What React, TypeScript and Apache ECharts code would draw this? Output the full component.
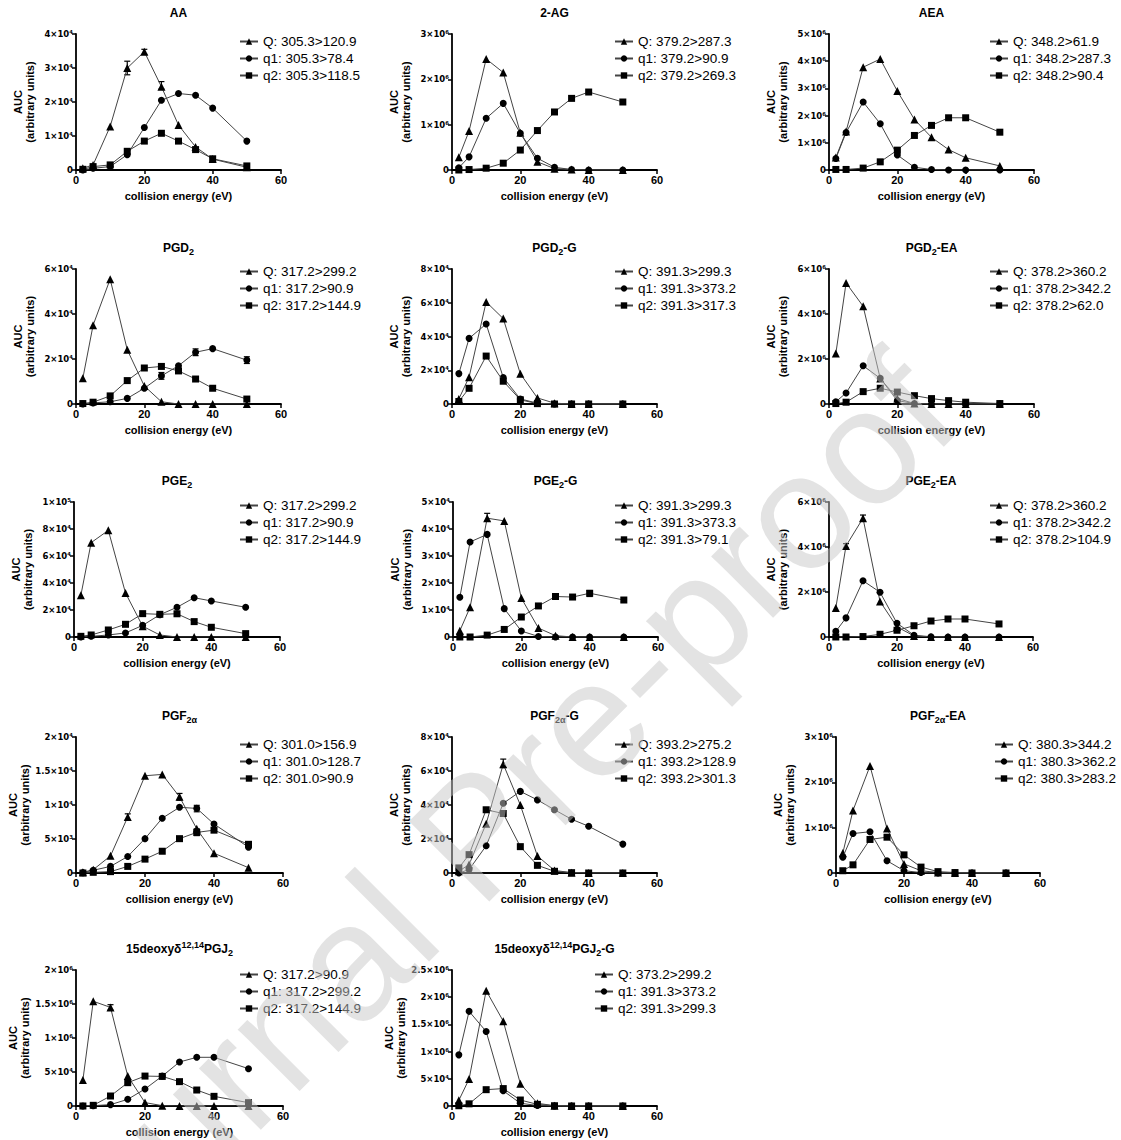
import React, { useEffect, useRef } from "react";
import * as echarts from "echarts";

const FONT = '"Liberation Sans", Arial, sans-serif';
const TICK_FONT = '"DejaVu Sans", "Liberation Sans", sans-serif';

const ENERGY = [2, 5, 10, 15, 20, 25, 30, 35, 40, 50];
const X_LABEL = "collision energy (eV)";
const Y_LABEL = "AUC\n(arbitrary units)";

// ---- AA (×10^4)
const AA_Q = [0.05, 0.15, 1.28, 3.0, 3.48, 2.45, 1.32, 0.68, 0.32, 0.08];
const AA_q1 = [0.0, 0.05, 0.1, 0.45, 1.25, 2.05, 2.25, 2.2, 1.82, 0.85];
const AA_q2 = [0.02, 0.1, 0.15, 0.55, 0.85, 1.08, 0.85, 0.6, 0.33, 0.12];
const AA_ERR = [[15, 2.8, 3.2], [20, 3.4, 3.55], [25, 2.38, 2.6]];
const AA_TICKS = ["0", "1×10⁴", "2×10⁴", "3×10⁴", "4×10⁴"];
const AA_LEGEND = ["Q: 305.3>120.9", "q1: 305.3>78.4", "q2: 305.3>118.5"];

// ---- 2-AG (×10^6)
const AG_Q = [0.28, 0.86, 2.45, 2.15, 0.82, 0.18, 0.03, 0.01, 0, 0];
const AG_q1 = [0.05, 0.29, 1.14, 1.47, 0.81, 0.26, 0.06, 0.01, 0, 0];
const AG_q2 = [0, 0.01, 0.04, 0.15, 0.44, 0.87, 1.28, 1.58, 1.72, 1.5];
const AG_TICKS = ["0", "1×10⁶", "2×10⁶", "3×10⁶"];
const AG_LEGEND = ["Q: 379.2>287.3", "q1: 379.2>90.9", "q2: 379.2>269.3"];

// ---- AEA (×10^6)
const AEA_Q = [0.46, 1.42, 3.78, 4.08, 2.9, 1.86, 1.2, 0.75, 0.45, 0.15];
const AEA_q1 = [0.42, 1.38, 2.5, 1.7, 0.55, 0.1, 0.02, 0, 0, 0];
const AEA_q2 = [0.02, 0.02, 0.07, 0.3, 0.73, 1.27, 1.64, 1.92, 1.92, 1.39];
const AEA_TICKS = ["0", "1×10⁶", "2×10⁶", "3×10⁶", "4×10⁶", "5×10⁶"];
const AEA_LEGEND = ["Q: 348.2>61.9", "q1: 348.2>287.3", "q2: 348.2>90.4"];

// ---- PGD2 (×10^4)
const PGD2_Q = [1.14, 3.5, 5.55, 2.41, 0.8, 0.1, 0, 0, 0, 0];
const PGD2_q1 = [0, 0.05, 0.1, 0.25, 0.7, 1.25, 1.7, 2.3, 2.46, 1.95];
const PGD2_q2 = [0.02, 0.08, 0.36, 1.04, 1.6, 1.67, 1.47, 1.11, 0.7, 0.22];
const PGD2_ERR = [[25, 1.1, 1.4], [35, 2.15, 2.45], [50, 1.8, 2.1]];
const PGD2_TICKS = ["0", "2×10⁴", "4×10⁴", "6×10⁴"];
const PGD2_LEGEND = ["Q: 317.2>299.2", "q1: 317.2>90.9", "q2: 317.2>144.9"];

// ---- PGD2-G (×10^4)
const PGD2G_Q = [0.3, 1.59, 6.05, 5.06, 1.79, 0.36, 0.05, 0, 0, 0];
const PGD2G_q1 = [1.8, 3.89, 4.74, 1.57, 0.3, 0.05, 0, 0, 0, 0];
const PGD2G_q2 = [0.15, 0.93, 2.84, 1.35, 0.25, 0.02, 0, 0, 0, 0];
const PGD2G_TICKS = ["0", "2×10⁴", "4×10⁴", "6×10⁴", "8×10⁴"];
const PGD2G_LEGEND = ["Q: 391.3>299.3", "q1: 391.3>373.2", "q2: 391.3>317.3"];

// ---- PGD2-EA (×10^6)
const PGD2EA_Q = [2.24, 5.38, 4.34, 1.13, 0.25, 0.02, 0, 0, 0, 0];
const PGD2EA_q1 = [0.1, 0.49, 1.7, 1.14, 0.15, 0.02, 0, 0, 0, 0];
const PGD2EA_q2 = [0.02, 0.08, 0.55, 0.7, 0.53, 0.37, 0.24, 0.15, 0.08, 0.02];
const PGD2EA_TICKS = ["0", "2×10⁶", "4×10⁶", "6×10⁶"];
const PGD2EA_LEGEND = ["Q: 378.2>360.2", "q1: 378.2>342.2", "q2: 378.2>62.0"];

// ---- PGE2 (×10^4)
const PGE2_Q = [3.09, 6.99, 7.9, 3.26, 0.8, 0.15, 0, 0, 0, 0];
const PGE2_q1 = [0, 0.05, 0.15, 0.3, 0.86, 1.65, 2.2, 2.91, 2.67, 2.2];
const PGE2_q2 = [0.05, 0.15, 0.52, 0.94, 1.73, 1.68, 1.72, 1.14, 0.72, 0.25];
const PGE2_TICKS = ["0", "2×10⁴", "4×10⁴", "6×10⁴", "8×10⁴", "1×10⁵"];
const PGE2_LEGEND = ["Q: 317.2>299.2", "q1: 317.2>90.9", "q2: 317.2>144.9"];

// ---- PGE2-G (×10^4)
const PGE2G_Q = [0.23, 1.1, 4.4, 4.3, 1.44, 0.33, 0.05, 0, 0, 0];
const PGE2G_q1 = [1.47, 3.52, 3.8, 1.05, 0.22, 0.02, 0, 0, 0, 0];
const PGE2G_q2 = [0, 0, 0.07, 0.28, 0.74, 1.15, 1.5, 1.48, 1.62, 1.37];
const PGE2G_ERR = [[10, 4.3, 4.58], [40, 1.5, 1.72], [50, 1.3, 1.45]];
const PGE2G_TICKS = ["0", "1×10⁴", "2×10⁴", "3×10⁴", "4×10⁴", "5×10⁴"];
const PGE2G_LEGEND = ["Q: 391.3>299.3", "q1: 391.3>373.3", "q2: 391.3>79.1"];

// ---- PGE2-EA (×10^6)
const PGE2EA_Q = [1.29, 4.05, 5.28, 1.58, 0.45, 0.05, 0, 0, 0, 0];
const PGE2EA_q1 = [0.25, 0.85, 2.5, 1.99, 0.61, 0.08, 0.01, 0, 0, 0];
const PGE2EA_q2 = [0, 0, 0.02, 0.12, 0.3, 0.5, 0.71, 0.8, 0.8, 0.58];
const PGE2EA_ERR = [[5, 3.95, 4.15], [10, 5.18, 5.42]];
const PGE2EA_TICKS = ["0", "2×10⁶", "4×10⁶", "6×10⁶"];
const PGE2EA_LEGEND = ["Q: 378.2>360.2", "q1: 378.2>342.2", "q2: 378.2>104.9"];

// ---- PGF2α (×10^3)
const PGF_Q = [0.1, 0.49, 2.52, 8.25, 14.3, 14.5, 11.2, 6.5, 2.9, 0.78];
const PGF_q1 = [0.05, 0.4, 0.97, 2.43, 5.05, 8.06, 9.66, 9.5, 7.2, 3.8];
const PGF_q2 = [0, 0.1, 0.2, 0.97, 2.04, 3.2, 5.05, 5.97, 6.3, 4.22];
const PGF_ERR = [[15, 7.8, 8.7], [30, 10.7, 11.7], [35, 9.0, 9.95], [35, 5.5, 6.5], [50, 3.9, 4.4]];
const PGF_TICKS = ["0", "5×10³", "1×10⁴", "1.5×10⁴", "2×10⁴"];
const PGF_LEGEND = ["Q: 301.0>156.9", "q1: 301.0>128.7", "q2: 301.0>90.9"];

// ---- PGF2α-G (×10^4)
const PGFG_Q = [0.1, 0.5, 2.9, 6.4, 4.0, 1.0, 0.15, 0.02, 0, 0];
const PGFG_q1 = [0, 0.2, 1.6, 4.1, 4.8, 4.3, 3.72, 3.16, 2.75, 1.7];
const PGFG_q2 = [0.3, 1.08, 3.72, 3.5, 1.55, 0.45, 0.1, 0.02, 0, 0];
const PGFG_ERR = [[15, 6.2, 6.7]];
const PGFG_TICKS = ["0", "2×10⁴", "4×10⁴", "6×10⁴", "8×10⁴"];
const PGFG_LEGEND = ["Q: 393.2>275.2", "q1: 393.2>128.9", "q2: 393.2>301.3"];

// ---- PGF2α-EA (×10^6)
const PGFEA_Q = [0.44, 1.38, 2.36, 0.98, 0.2, 0.05, 0.01, 0, 0, 0];
const PGFEA_q1 = [0.35, 0.87, 0.91, 0.27, 0.05, 0.01, 0, 0, 0, 0];
const PGFEA_q2 = [0.05, 0.18, 0.74, 0.79, 0.4, 0.13, 0.03, 0.01, 0, 0];
const PGFEA_TICKS = ["0", "1×10⁶", "2×10⁶", "3×10⁶"];
const PGFEA_LEGEND = ["Q: 380.3>344.2", "q1: 380.3>362.2", "q2: 380.3>283.2"];

// ---- 15deoxyδ12,14PGJ2 (×10^5)
const PGJ_Q = [3.82, 15.4, 14.5, 4.4, 0.5, 0.05, 0, 0, 0, 0];
const PGJ_q1 = [0, 0.05, 0.2, 0.98, 2.5, 4.4, 6.47, 7.16, 7.16, 5.49];
const PGJ_q2 = [0, 0.1, 1.47, 3.43, 4.4, 4.35, 3.58, 2.35, 1.42, 0.49];
const PGJ_ERR = [[10, 14.1, 14.9]];
const PGJ_TICKS = ["0", "5×10⁴", "1×10⁶", "1.5×10⁶", "2×10⁶"];
const PGJ_LEGEND = ["Q: 317.2>90.9", "q1: 317.2>299.2", "q2: 317.2>144.9"];

// ---- 15deoxyδ12,14PGJ2-G (×10^5)
const PGJG_Q = [1.04, 4.95, 21.2, 15.6, 4.1, 0.5, 0.05, 0, 0, 0];
const PGJG_q1 = [9.4, 17.4, 13.7, 2.8, 0.5, 0.1, 0, 0, 0, 0];
const PGJG_q2 = [0.05, 0.4, 3.0, 3.2, 1.1, 0.3, 0.05, 0, 0, 0];
const PGJG_TICKS = ["0", "5×10⁴", "1×10⁶", "1.5×10⁶", "2×10⁶", "2.5×10⁶"];
const PGJG_LEGEND = ["Q: 373.2>299.2", "q1: 391.3>373.2", "q2: 391.3>299.3"];

const PANELS = [
  { title: "{m|AA}", Q: AA_Q, q1: AA_q1, q2: AA_q2, err: AA_ERR, ticks: AA_TICKS, legend: AA_LEGEND, interval: 1, box: [76, 34, 205, 136], lg: [239, 34] },
  { title: "{m|2-AG}", Q: AG_Q, q1: AG_q1, q2: AG_q2, err: [], ticks: AG_TICKS, legend: AG_LEGEND, interval: 1, box: [452, 34, 205, 136], lg: [614, 34] },
  { title: "{m|AEA}", Q: AEA_Q, q1: AEA_q1, q2: AEA_q2, err: [], ticks: AEA_TICKS, legend: AEA_LEGEND, interval: 1, box: [829, 34, 205, 136], lg: [989, 34] },
  { title: "{m|PGD}{s|2}", Q: PGD2_Q, q1: PGD2_q1, q2: PGD2_q2, err: PGD2_ERR, ticks: PGD2_TICKS, legend: PGD2_LEGEND, interval: 2, box: [76, 269, 205, 135], lg: [239, 264] },
  { title: "{m|PGD}{s|2}{m|-G}", Q: PGD2G_Q, q1: PGD2G_q1, q2: PGD2G_q2, err: [], ticks: PGD2G_TICKS, legend: PGD2G_LEGEND, interval: 2, box: [452, 269, 205, 135], lg: [614, 264] },
  { title: "{m|PGD}{s|2}{m|-EA}", Q: PGD2EA_Q, q1: PGD2EA_q1, q2: PGD2EA_q2, err: [], ticks: PGD2EA_TICKS, legend: PGD2EA_LEGEND, interval: 2, box: [829, 269, 205, 135], lg: [989, 264] },
  { title: "{m|PGE}{s|2}", Q: PGE2_Q, q1: PGE2_q1, q2: PGE2_q2, err: [], ticks: PGE2_TICKS, legend: PGE2_LEGEND, interval: 2, box: [74, 502, 206, 135], lg: [239, 498] },
  { title: "{m|PGE}{s|2}{m|-G}", Q: PGE2G_Q, q1: PGE2G_q1, q2: PGE2G_q2, err: PGE2G_ERR, ticks: PGE2G_TICKS, legend: PGE2G_LEGEND, interval: 1, box: [453, 502, 205, 135], lg: [614, 498] },
  { title: "{m|PGE}{s|2}{m|-EA}", Q: PGE2EA_Q, q1: PGE2EA_q1, q2: PGE2EA_q2, err: PGE2EA_ERR, ticks: PGE2EA_TICKS, legend: PGE2EA_LEGEND, interval: 2, box: [829, 502, 204, 135], lg: [989, 498] },
  { title: "{m|PGF}{s|2α}", Q: PGF_Q, q1: PGF_q1, q2: PGF_q2, err: PGF_ERR, ticks: PGF_TICKS, legend: PGF_LEGEND, interval: 5, box: [76, 737, 207, 136], lg: [239, 737] },
  { title: "{m|PGF}{s|2α}{m|-G}", Q: PGFG_Q, q1: PGFG_q1, q2: PGFG_q2, err: PGFG_ERR, ticks: PGFG_TICKS, legend: PGFG_LEGEND, interval: 2, box: [452, 737, 205, 136], lg: [614, 737] },
  { title: "{m|PGF}{s|2α}{m|-EA}", Q: PGFEA_Q, q1: PGFEA_q1, q2: PGFEA_q2, err: [], ticks: PGFEA_TICKS, legend: PGFEA_LEGEND, interval: 1, box: [836, 737, 204, 136], lg: [994, 737] },
  { title: "{m|15deoxyδ}{p|12,14}{m|PGJ}{s|2}", Q: PGJ_Q, q1: PGJ_q1, q2: PGJ_q2, err: PGJ_ERR, ticks: PGJ_TICKS, legend: PGJ_LEGEND, interval: 5, box: [76, 970, 207, 136], lg: [239, 967] },
  { title: "{m|15deoxyδ}{p|12,14}{m|PGJ}{s|2}{m|-G}", Q: PGJG_Q, q1: PGJG_q1, q2: PGJG_q2, err: [], ticks: PGJG_TICKS, legend: PGJG_LEGEND, interval: 5, box: [452, 970, 205, 136], lg: [594, 967] },
];

const SYMBOLS = ["triangle", "circle", "rect"];
const SYMBOL_SIZES = [8, 7, 7];

function buildOption() {
  const grid: any[] = [];
  const xAxis: any[] = [];
  const yAxis: any[] = [];
  const series: any[] = [];
  const legend: any[] = [];
  const graphic: any[] = [];

  PANELS.forEach((p, i) => {
    const [left, top, width, height] = p.box;
    const max = (p.ticks.length - 1) * p.interval;
    grid.push({ left, top, width, height });
    xAxis.push({
      type: "value",
      gridIndex: i,
      min: 0,
      max: 60,
      interval: 20,
      name: X_LABEL,
      nameLocation: "middle",
      nameGap: 20,
      nameTextStyle: { fontFamily: FONT, fontSize: 11, fontWeight: "bold", color: "#000" },
      axisLine: { show: true, onZero: false, lineStyle: { color: "#000", width: 1.8 } },
      axisTick: { show: true, length: 4, lineStyle: { color: "#000", width: 1.5 } },
      axisLabel: { fontFamily: FONT, fontSize: 11, fontWeight: "bold", color: "#000", margin: 4 },
      splitLine: { show: false },
    });
    yAxis.push({
      type: "value",
      gridIndex: i,
      min: 0,
      max,
      interval: p.interval,
      name: Y_LABEL,
      nameLocation: "middle",
      nameGap: 40,
      nameTextStyle: { fontFamily: FONT, fontSize: 11, fontWeight: "bold", color: "#000", lineHeight: 12 },
      axisLine: { show: true, onZero: false, lineStyle: { color: "#000", width: 1.8 } },
      axisTick: { show: true, length: 4, lineStyle: { color: "#000", width: 1.5 } },
      axisLabel: {
        fontFamily: TICK_FONT,
        fontSize: 8.5,
        fontWeight: "bold",
        color: "#000",
        margin: 3,
        formatter: (v: number) => p.ticks[Math.round(v / p.interval)] ?? "",
      },
      splitLine: { show: false },
    });

    const sets = [p.Q, p.q1, p.q2];
    sets.forEach((vals, k) => {
      series.push({
        type: "line",
        name: p.legend[k],
        xAxisIndex: i,
        yAxisIndex: i,
        data: ENERGY.map((x, j) => [x, vals[j]]),
        symbol: SYMBOLS[k],
        symbolSize: SYMBOL_SIZES[k],
        showAllSymbol: true,
        itemStyle: { color: "#000" },
        lineStyle: { color: "#444", width: 1 },
        emphasis: { disabled: true },
        z: 3 + k,
      });
    });

    if (p.err.length) {
      series.push({
        type: "custom",
        xAxisIndex: i,
        yAxisIndex: i,
        data: p.err,
        encode: { x: 0, y: [1, 2] },
        z: 2,
        renderItem: (_params: any, api: any) => {
          const a = api.coord([api.value(0), api.value(1)]);
          const b = api.coord([api.value(0), api.value(2)]);
          const st = { stroke: "#000", lineWidth: 1.2 };
          return {
            type: "group",
            children: [
              { type: "line", shape: { x1: a[0], y1: a[1], x2: b[0], y2: b[1] }, style: st },
              { type: "line", shape: { x1: a[0] - 3, y1: a[1], x2: a[0] + 3, y2: a[1] }, style: st },
              { type: "line", shape: { x1: b[0] - 3, y1: b[1], x2: b[0] + 3, y2: b[1] }, style: st },
            ],
          };
        },
      });
    }

    legend.push({
      orient: "vertical",
      left: p.lg[0],
      top: p.lg[1],
      padding: 0,
      itemGap: 2,
      itemWidth: 18,
      itemHeight: 8,
      selectedMode: false,
      data: p.legend,
      textStyle: { fontFamily: FONT, fontSize: 13.5, color: "#000", lineHeight: 15 },
    });

    graphic.push({
      type: "text",
      x: left + width / 2,
      y: top - 21,
      silent: true,
      style: {
        text: p.title,
        align: "center",
        verticalAlign: "middle",
        rich: {
          m: { fontFamily: FONT, fontSize: 12, fontWeight: "bold", fill: "#000", lineHeight: 17, verticalAlign: "middle" },
          s: { fontFamily: FONT, fontSize: 9, fontWeight: "bold", fill: "#000", lineHeight: 11, verticalAlign: "bottom" },
          p: { fontFamily: FONT, fontSize: 9, fontWeight: "bold", fill: "#000", lineHeight: 11, verticalAlign: "top" },
        },
      },
    });
  });

  graphic.push({
    type: "text",
    x: 475,
    y: 835,
    rotation: (45 * Math.PI) / 180,
    silent: true,
    z: 100,
    style: {
      text: "Journal Pre-proof",
      font: `165px ${FONT}`,
      fill: "rgba(200,200,200,0.5)",
      align: "center",
      verticalAlign: "middle",
    },
  });

  return {
    animation: false,
    backgroundColor: "#fff",
    grid,
    xAxis,
    yAxis,
    series,
    legend,
    graphic,
  };
}

export default function App() {
  const ref = useRef<HTMLDivElement>(null);
  useEffect(() => {
    document.body.style.margin = "0";
    if (!ref.current) return;
    const chart = echarts.init(ref.current, undefined, { renderer: "svg" });
    chart.setOption(buildOption() as any);
    return () => chart.dispose();
  }, []);
  return <div ref={ref} style={{ width: 1121, height: 1140 }} />;
}
